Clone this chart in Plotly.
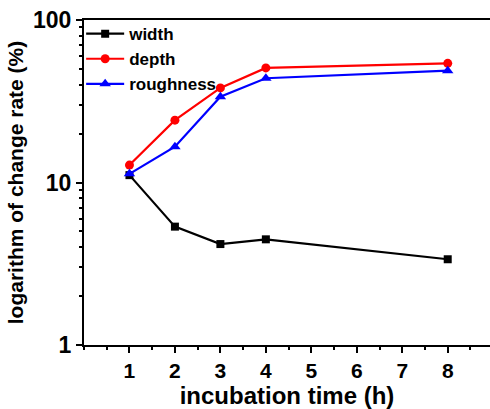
import plotly.graph_objects as go

time_h = [1, 2, 3, 4, 8]
width = [11.1, 5.35, 4.18, 4.47, 3.37]
depth = [12.8, 24.2, 38.2, 50.7, 54.1]
roughness = [11.3, 16.6, 33.7, 43.8, 48.8]

FONT = "Liberation Sans, Arial, sans-serif"

fig = go.Figure()
fig.add_trace(go.Scatter(x=time_h, y=width, name="width", mode="lines+markers",
                         line=dict(color="black", width=2.2),
                         marker=dict(symbol="square", size=8, color="black")))
fig.add_trace(go.Scatter(x=time_h, y=depth, name="depth", mode="lines+markers",
                         line=dict(color="#ff0000", width=2.2),
                         marker=dict(symbol="circle", size=9, color="#ff0000")))
fig.add_trace(go.Scatter(x=time_h, y=roughness, name="roughness", mode="lines+markers",
                         line=dict(color="#0000ff", width=2.2),
                         marker=dict(symbol="triangle-up", size=10, color="#0000ff")))

fig.update_layout(
    width=490, height=409,
    margin=dict(l=84, r=0, t=20, b=64),
    paper_bgcolor="white", plot_bgcolor="white",
    font=dict(family=FONT, color="black", size=16, weight="bold"),
    showlegend=True,
    legend=dict(x=-0.007, y=1.012, xanchor="left", yanchor="top",
                bgcolor="rgba(0,0,0,0)", font=dict(size=17, weight="bold"),
                tracegroupgap=0, itemwidth=38),
    xaxis=dict(range=[0, 8.93], tickmode="array", tickvals=[1, 2, 3, 4, 5, 6, 7, 8],
               showgrid=False, zeroline=False, showline=True, linecolor="black",
               linewidth=2, mirror=True, ticks="outside", ticklen=6, tickwidth=2,
               tickcolor="black", tickfont=dict(size=21, weight="bold"),
               minor=dict(ticks="outside", ticklen=3, tickwidth=2, tickcolor="black",
                          dtick=0.5, tick0=0, showgrid=False),
               title=dict(text="incubation time (h)", font=dict(size=24, weight="bold"),
                          standoff=2)),
    yaxis=dict(type="log", range=[0, 2], tickmode="array", tickvals=[1, 10, 100],
               ticktext=["1", "10", "100"],
               showgrid=False, zeroline=False, showline=True, linecolor="black",
               linewidth=2, ticks="outside", ticklen=6, tickwidth=2, tickcolor="black",
               tickfont=dict(size=23, weight="bold"),
               minor=dict(ticks="outside", ticklen=3, tickwidth=1.5, tickcolor="black",
                          tickvals=[2, 3, 4, 5, 6, 7, 8, 9, 20, 30, 40, 50, 60, 70, 80, 90],
                          showgrid=False),
               title=dict(text="logarithm of change rate (%)",
                          font=dict(size=21, weight="bold"), standoff=4)),
)

fig.write_html("out.html")
